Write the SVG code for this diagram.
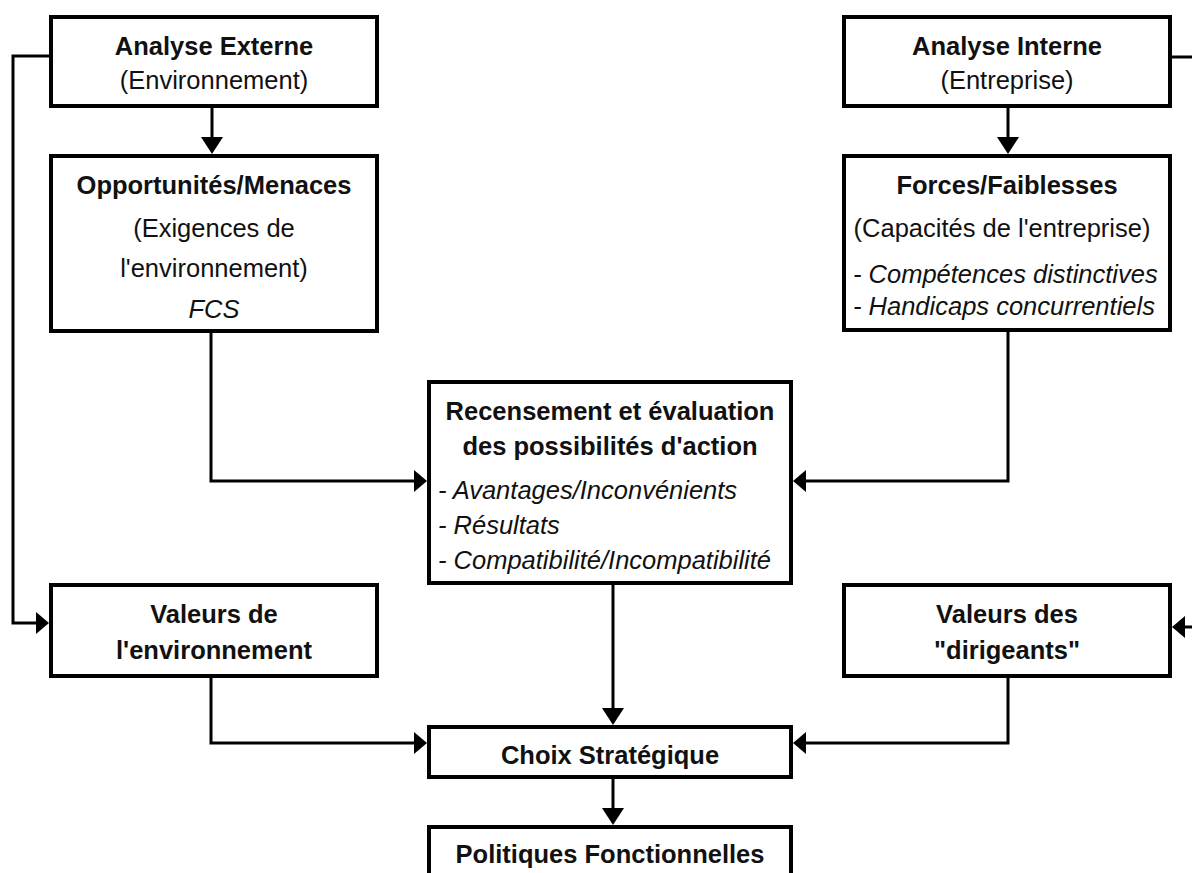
<svg xmlns="http://www.w3.org/2000/svg" width="1192" height="873" viewBox="0 0 1192 873">
<defs>
<style>
.box{fill:#fff;stroke:#000;stroke-width:4}
.t{font-family:"Liberation Sans",Arial,sans-serif;font-size:25.5px;fill:#111}
.c{text-anchor:middle}
.b{font-weight:bold}
.i{font-style:italic}
.ln{fill:none;stroke:#000;stroke-width:3}
.v{marker-end:url(#av)}
.h{marker-end:url(#ah)}
</style>
<marker id="av" markerUnits="userSpaceOnUse" viewBox="0 0 17 22" refX="0" refY="11" markerWidth="17" markerHeight="22" orient="auto"><path d="M0,0 L17,11 L0,22 z" fill="#000"/></marker>
<marker id="ah" markerUnits="userSpaceOnUse" viewBox="0 0 13 22" refX="0" refY="11" markerWidth="13" markerHeight="22" orient="auto"><path d="M0,0 L13,11 L0,22 z" fill="#000"/></marker>
</defs>
<rect width="1192" height="873" fill="#fff"/>
<g id="connectors">
<path class="ln v" d="M212,108 V137"/>
<path class="ln v" d="M1008,108 V137"/>
<path class="ln h" d="M211,333 V481 H414"/>
<path class="ln h" d="M1008,332 V481 H806"/>
<path class="ln h" d="M49,56 H13 V623 H36"/>
<path class="ln h" d="M1172,57 H1205 V627 H1185"/>
<path class="ln v" d="M613,585 V708"/>
<path class="ln h" d="M211,678 V743 H414"/>
<path class="ln h" d="M1008,678 V743 H806"/>
<path class="ln v" d="M613,779 V808"/>
</g>
<g id="analyse-externe">
<rect class="box" x="51" y="17" width="326" height="89"/>
<text class="t c b" x="214" y="55">Analyse Externe</text>
<text class="t c" x="214" y="89">(Environnement)</text>
</g>
<g id="opportunites">
<rect class="box" x="51" y="156" width="326" height="175"/>
<text class="t c b" x="214" y="194">Opportunités/Menaces</text>
<text class="t c" x="214" y="237">(Exigences de</text>
<text class="t c" x="214" y="277">l'environnement)</text>
<text class="t c i" x="214" y="318">FCS</text>
</g>
<g id="analyse-interne">
<rect class="box" x="844" y="17" width="326" height="89"/>
<text class="t c b" x="1007" y="55">Analyse Interne</text>
<text class="t c" x="1007" y="89">(Entreprise)</text>
</g>
<g id="forces">
<rect class="box" x="844" y="156" width="326" height="174"/>
<text class="t c b" x="1007" y="194">Forces/Faiblesses</text>
<text class="t c" x="1002" y="237">(Capacités de l'entreprise)</text>
<text class="t i" x="853" y="283">- Compétences distinctives</text>
<text class="t i" x="853" y="315">- Handicaps concurrentiels</text>
</g>
<g id="recensement">
<rect class="box" x="429" y="382" width="362" height="201"/>
<text class="t c b" x="610" y="420">Recensement et évaluation</text>
<text class="t c b" x="610" y="455">des possibilités d'action</text>
<text class="t i" x="438" y="499">- Avantages/Inconvénients</text>
<text class="t i" x="438" y="534">- Résultats</text>
<text class="t i" x="438" y="569">- Compatibilité/Incompatibilité</text>
</g>
<g id="valeurs-environnement">
<rect class="box" x="51" y="585" width="326" height="91"/>
<text class="t c b" x="214" y="623">Valeurs de</text>
<text class="t c b" x="214" y="659">l'environnement</text>
</g>
<g id="valeurs-dirigeants">
<rect class="box" x="844" y="585" width="326" height="91"/>
<text class="t c b" x="1007" y="623">Valeurs des</text>
<text class="t c b" x="1007" y="659">"dirigeants"</text>
</g>
<g id="choix">
<rect class="box" x="429" y="727" width="362" height="50"/>
<text class="t c b" x="610" y="764">Choix Stratégique</text>
</g>
<g id="politiques">
<rect class="box" x="429" y="827" width="362" height="70"/>
<text class="t c b" x="610" y="863">Politiques Fonctionnelles</text>
</g>
</svg>
